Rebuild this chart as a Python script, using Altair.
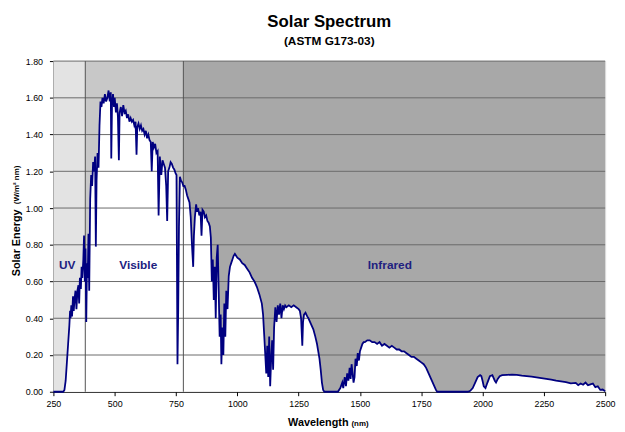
import altair as alt
import pandas as pd

# ---------------- data ----------------
wavelength = [
    250, 280, 290, 295, 300, 305, 310, 315, 318, 320, 323, 326, 330, 333, 336, 340,
    344, 348, 352, 355, 358, 362, 365, 368, 372, 375, 378, 381, 384, 387, 390, 393,
    396, 400, 404, 408, 412, 416, 420, 423, 426, 430, 434, 438, 442, 446, 450, 455,
    460, 465, 470, 475, 480, 484, 486, 489, 493, 497, 500, 505, 509, 513, 517, 520,
    525, 530, 535, 540, 545, 550, 555, 560, 565, 570, 575, 580, 585, 589, 592, 597,
    602, 607, 612, 617, 622, 627, 632, 637, 642, 647, 651, 655, 660, 665, 670, 675,
    679, 684, 690, 695, 700, 705, 710, 714, 718, 723, 728, 733, 738, 743, 748, 752,
    756, 759, 762, 766, 770, 775, 780, 785, 790, 795, 800, 805, 810, 815, 820, 823,
    827, 832, 836, 840, 845, 850, 854, 858, 863, 868, 873, 878, 883, 888, 892, 896,
    900, 904, 908, 912, 916, 920, 924, 928, 932, 935, 939, 943, 947, 951, 955, 960,
    965, 970, 975, 980, 985, 990, 995, 1000, 1010, 1020, 1030, 1040, 1050, 1060, 1070, 1080,
    1090, 1100, 1105, 1110, 1114, 1118, 1122, 1126, 1130, 1134, 1138, 1142, 1146, 1150, 1155, 1160,
    1165, 1170, 1175, 1180, 1185, 1190, 1195, 1200, 1210, 1220, 1230, 1240, 1250, 1255, 1260, 1265,
    1268, 1272, 1278, 1285, 1290, 1300, 1310, 1318, 1325, 1330, 1335, 1340, 1345, 1350, 1355, 1410,
    1420, 1428, 1432, 1438, 1443, 1448, 1453, 1458, 1462, 1466, 1470, 1474, 1478, 1482, 1487, 1491,
    1496, 1500, 1505, 1510, 1515, 1520, 1530, 1540, 1550, 1560, 1570, 1580, 1590, 1600, 1610, 1620,
    1630, 1640, 1650, 1660, 1670, 1680, 1690, 1700, 1710, 1720, 1730, 1740, 1750, 1760, 1770, 1780,
    1790, 1800, 1810, 1815, 1940, 1950, 1960, 1970, 1980, 1990, 1995, 2000, 2005, 2012, 2020, 2030,
    2040, 2050, 2055, 2062, 2070, 2080, 2100, 2120, 2140, 2160, 2180, 2200, 2220, 2240, 2260, 2280,
    2300, 2320, 2340, 2360, 2380, 2390, 2400, 2410, 2420, 2430, 2440, 2450, 2460, 2470, 2480, 2490,
    2500,
]
irradiance = [
    0.0, 0.0, 0.0, 0.01, 0.06, 0.16, 0.26, 0.36, 0.44, 0.40, 0.47, 0.41, 0.52, 0.44, 0.50, 0.55,
    0.45, 0.55, 0.58, 0.48, 0.62, 0.56, 0.68, 0.62, 0.72, 0.85, 0.60, 0.78, 0.38, 0.70, 0.62, 0.86,
    0.55, 1.05, 1.18, 1.12, 1.25, 1.20, 1.28, 0.79, 1.15, 1.30, 1.22, 1.45, 1.58, 1.55, 1.60, 1.57,
    1.62, 1.58, 1.60, 1.64, 1.58, 1.63, 1.27, 1.56, 1.62, 1.55, 1.60, 1.52, 1.57, 1.50, 1.26, 1.52,
    1.55, 1.50, 1.56, 1.52, 1.53, 1.49, 1.51, 1.47, 1.49, 1.47, 1.48, 1.45, 1.47, 1.29, 1.44, 1.46,
    1.43, 1.45, 1.42, 1.43, 1.40, 1.42, 1.38, 1.40, 1.37, 1.36, 1.20, 1.36, 1.33, 1.35, 1.30, 1.31,
    0.96, 1.28, 1.18, 1.26, 1.24, 1.22, 1.12, 0.93, 1.20, 1.22, 1.25, 1.24, 1.22, 1.21, 1.19, 1.18,
    0.15, 0.45, 0.90, 1.17, 1.15, 1.14, 1.12, 1.12, 1.10, 1.07, 1.05, 1.03, 0.95, 0.80, 0.68, 0.85,
    0.95, 1.02, 0.98, 1.00, 0.96, 0.98, 0.85, 0.99, 0.98, 0.95, 0.96, 0.93, 0.92, 0.90, 0.84, 0.60,
    0.72, 0.50, 0.68, 0.40, 0.73, 0.80, 0.55, 0.30, 0.42, 0.15, 0.35, 0.20, 0.48, 0.30, 0.55, 0.45,
    0.63, 0.68, 0.70, 0.72, 0.74, 0.75, 0.74, 0.73, 0.72, 0.70, 0.69, 0.67, 0.65, 0.62, 0.60, 0.57,
    0.53, 0.48, 0.42, 0.30, 0.20, 0.10, 0.25, 0.08, 0.30, 0.03, 0.18, 0.28, 0.12, 0.35, 0.46, 0.38,
    0.47, 0.42, 0.48, 0.40, 0.47, 0.45, 0.47, 0.46, 0.47, 0.46, 0.47, 0.46, 0.45, 0.44, 0.40, 0.25,
    0.38, 0.42, 0.43, 0.41, 0.40, 0.37, 0.34, 0.30, 0.26, 0.22, 0.18, 0.12, 0.05, 0.01, 0.0, 0.0,
    0.02, 0.05, 0.02, 0.08, 0.03, 0.10, 0.06, 0.13, 0.07, 0.15, 0.10, 0.05, 0.08, 0.18, 0.14, 0.21,
    0.17, 0.22, 0.24, 0.26, 0.27, 0.27, 0.28, 0.28, 0.27, 0.27, 0.26, 0.27, 0.25, 0.26, 0.25, 0.24,
    0.25, 0.24, 0.23, 0.23, 0.22, 0.22, 0.21, 0.20, 0.19, 0.19, 0.18, 0.17, 0.16, 0.15, 0.13, 0.10,
    0.07, 0.04, 0.01, 0.0, 0.0, 0.005, 0.02, 0.05, 0.08, 0.09, 0.085, 0.06, 0.03, 0.02, 0.05, 0.085,
    0.09, 0.06, 0.05, 0.07, 0.085, 0.09, 0.092, 0.093, 0.092, 0.088, 0.085, 0.082, 0.078, 0.074, 0.07, 0.066,
    0.06, 0.056, 0.052, 0.046, 0.048, 0.036, 0.045, 0.038, 0.05, 0.035, 0.04, 0.045, 0.025, 0.03, 0.01, 0.012,
    0.003,
]

band_start = [250, 380, 780]
band_end = [380, 780, 2500]
band_color = ["#e3e3e3", "#c8c8c8", "#a8a8a8"]

boundaries = [380, 780]

region_names = ["UV", "Visible", "Infrared"]
region_x = [306, 596, 1622]
region_y = [0.69, 0.69, 0.69]

x_ticks = [250, 500, 750, 1000, 1250, 1500, 1750, 2000, 2250, 2500]
y_ticks = [0.0, 0.2, 0.4, 0.6, 0.8, 1.0, 1.2, 1.4, 1.6, 1.8]

# ---------------- chart ----------------
W, H = 559, 335
FONT = "Liberation Sans"
NAVY = "#000080"
LABEL_BLUE = "#202080"

spec = pd.DataFrame({"wl": wavelength, "e": irradiance})
bands = pd.DataFrame({"s": band_start, "t": band_end, "c": band_color})
bounds = pd.DataFrame({"b": boundaries})
regions = pd.DataFrame({"name": region_names, "x": region_x, "y": region_y})
grid = pd.DataFrame({"g": y_ticks[1:]})

xscale = alt.Scale(domain=[250, 2500], nice=False, zero=False)
yscale = alt.Scale(domain=[0, 1.8], nice=False, zero=True)

xaxis = alt.Axis(values=x_ticks, format="d", grid=False, labelFontSize=9, labelFont=FONT,
                 labelColor="#000000", tickSize=4, tickColor="#000000",
                 domainColor="#000000", labelPadding=4, labelFlush=False,
                 labelOverlap=False)
yaxis = alt.Axis(values=y_ticks, format=".2f", grid=False, labelFontSize=9,
                 labelFont=FONT, labelColor="#000000", tickSize=4,
                 tickColor="#000000", domainColor="#000000", labelPadding=7,
                 labelOverlap=False, labelFlush=False)

band_layer = alt.Chart(bands).mark_rect().encode(
    x=alt.X("s:Q", scale=xscale, axis=xaxis, title=None),
    x2="t:Q",
    y=alt.Y(datum=0, scale=yscale, axis=yaxis, title=None),
    y2=alt.datum(1.8),
    color=alt.Color("c:N", scale=None),
)

area_layer = alt.Chart(spec).mark_area(color="white", opacity=1).encode(
    x=alt.X("wl:Q", scale=xscale, axis=xaxis, title=None),
    y=alt.Y("e:Q", scale=yscale, axis=yaxis, title=None),
)

grid_layer = alt.Chart(grid).mark_rule(color="#6a6a6a", strokeWidth=1).encode(
    y=alt.Y("g:Q", scale=yscale, axis=yaxis, title=None),
    x=alt.value(0),
    x2=alt.value(W),
)

bound_layer = alt.Chart(bounds).mark_rule(color="#505050", strokeWidth=1).encode(
    x=alt.X("b:Q", scale=xscale, axis=xaxis, title=None),
    y=alt.value(0),
    y2=alt.value(H),
)

line_layer = alt.Chart(spec).mark_line(color=NAVY, strokeWidth=1.8).encode(
    x=alt.X("wl:Q", scale=xscale, axis=xaxis, title=None),
    y=alt.Y("e:Q", scale=yscale, axis=yaxis, title=None),
)

region_layer = alt.Chart(regions).mark_text(
    font=FONT, fontSize=12, fontWeight="bold", color=LABEL_BLUE
).encode(
    x=alt.X("x:Q", scale=xscale, axis=xaxis, title=None),
    y=alt.Y("y:Q", scale=yscale, axis=yaxis, title=None),
    text="name:N",
)

def label(txt, x, y, size, align="center", angle=0, baseline="alphabetic"):
    return alt.Chart(pd.DataFrame({"t": [txt]})).mark_text(
        font=FONT, fontSize=size, fontWeight="bold", color="#000000",
        align=align, baseline=baseline, angle=angle,
    ).encode(text="t:N", x=alt.value(x), y=alt.value(y))

title1 = label("Solar Spectrum", W / 2, -35, 17)
title2 = label("(ASTM G173-03)", W / 2, -16, 12)
xt1 = label("Wavelength", 299, 370, 11, align="right")
xt2 = label("(nm)", 302, 370, 8, align="left")
yt1 = label("Solar Energy", -37, 218, 11, align="left", angle=270, baseline="middle")
yt2 = label("(W/m\u00b2 nm)", -37, 145, 8, align="left", angle=270, baseline="middle")

chart = alt.layer(
    band_layer, area_layer, grid_layer, bound_layer, line_layer, region_layer,
    title1, title2, xt1, xt2, yt1, yt2,
).properties(
    width=W, height=H,
    padding={"left": 46, "top": 51, "right": 12, "bottom": 38},
    autosize=alt.AutoSizeParams(type="none"),
).configure_view(strokeWidth=0).configure(font=FONT)

chart.save("out.html", embed_options={"renderer": "svg", "actions": False})
